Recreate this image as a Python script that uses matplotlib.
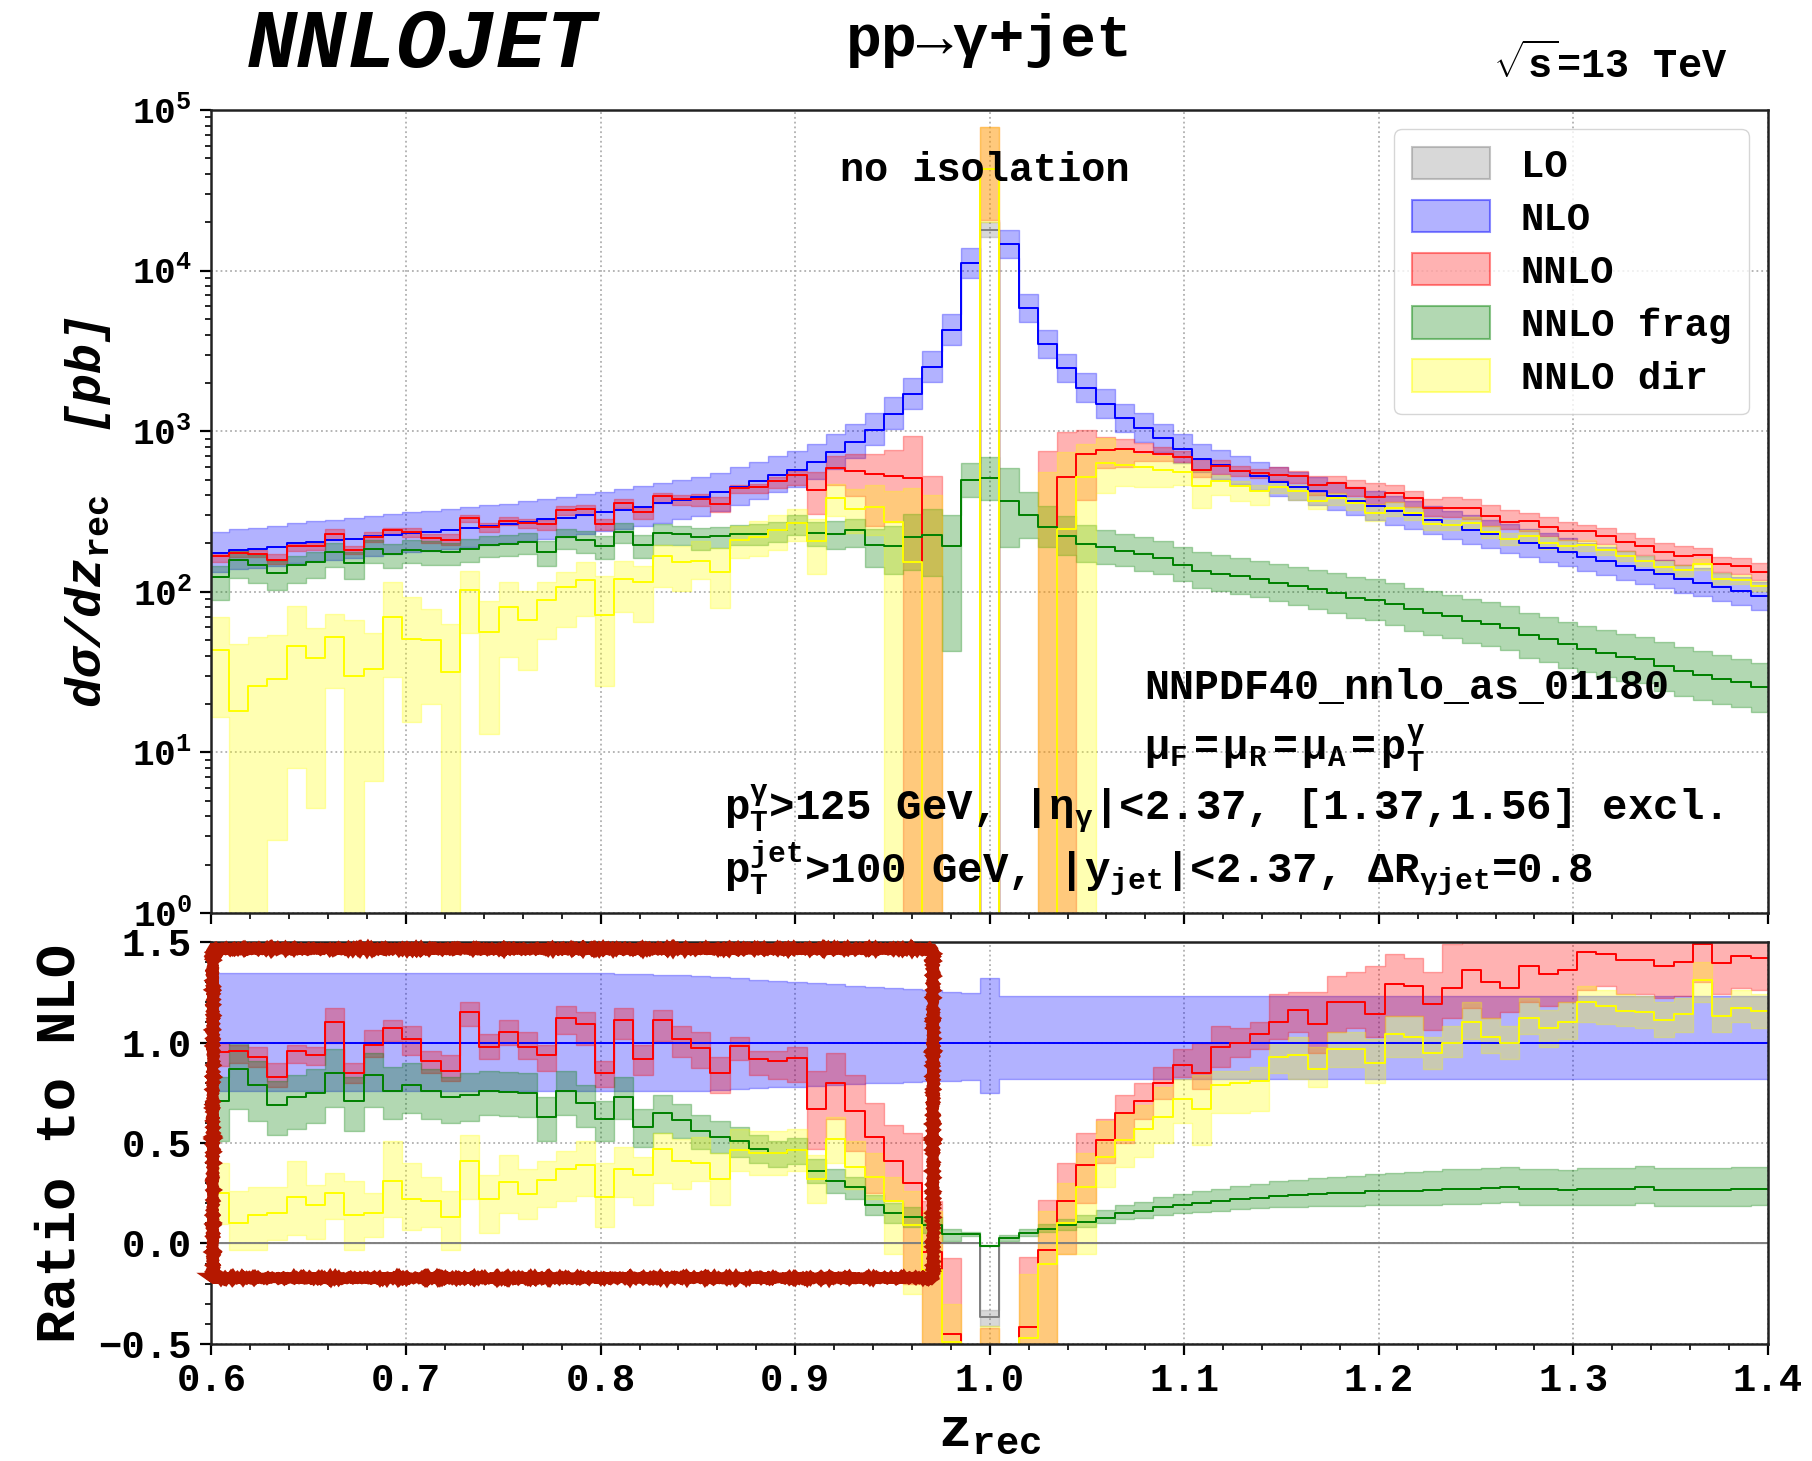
import numpy as np
import matplotlib
matplotlib.use('Agg')
import matplotlib.pyplot as plt
from matplotlib.patches import Patch, Rectangle
from matplotlib.ticker import MultipleLocator, LogLocator, NullFormatter

plt.rcParams['font.family'] = ['Liberation Mono', 'DejaVu Sans Mono', 'DejaVu Sans']
plt.rcParams['font.weight'] = 'bold'
plt.rcParams['axes.labelweight'] = 'bold'
plt.rcParams['mathtext.fontset'] = 'custom'
plt.rcParams['mathtext.rm'] = 'Liberation Mono:bold'
plt.rcParams['mathtext.it'] = 'Liberation Mono:bold:italic'
plt.rcParams['mathtext.bf'] = 'Liberation Mono:bold'
plt.rcParams['mathtext.default'] = 'regular'

# 81 bins of width 0.0099, centred on z_rec = 1
BIN_WIDTH = 0.0099
z_centres = 1.0 + BIN_WIDTH * np.arange(-40, 41)

# NLO cross section per bin [pb] (negative in the z = 1 bin)
nlo_xsec = [174, 182, 186, 191, 200, 204, 209, 214, 221, 226,
            232, 237, 243, 251, 257, 263, 272, 282, 288, 302,
            313, 324, 339, 355, 372, 389, 417, 452, 490, 537,
            575, 646, 741, 861, 1023, 1288, 1698, 2512, 4270, 11100,
            -49000,
            14650, 5820, 3470, 2460, 1860, 1480, 1200, 1050, 904, 776,
            676, 617, 569, 525, 484, 452, 422, 394, 367, 343,
            320, 299, 279, 260, 243, 229, 214, 200, 188, 176,
            164, 155, 145, 136, 129, 120, 114, 107, 101, 94]
# NLO scale band relative to NLO central
nlo_rel_lo = [0.76] * 26 + [0.765, 0.77, 0.775, 0.78, 0.78, 0.785, 0.79, 0.795,
                            0.80, 0.80, 0.805, 0.81, 0.81, 0.815] + [0.75] + [0.82] * 40
nlo_rel_hi = [1.345] * 21 + [1.34, 1.34, 1.335, 1.335, 1.33, 1.325, 1.32, 1.31,
                             1.305, 1.30, 1.295, 1.29, 1.28, 1.275, 1.27, 1.265,
                             1.26, 1.25, 1.245] + [1.32] + [1.23] * 40

# LO only populates the z = 1 bin
lo_xsec = [0.0] * 40 + [1.8e4] + [0.0] * 40
lo_xsec_lo = [0.0] * 40 + [1.62e4] + [0.0] * 40
lo_xsec_hi = [0.0] * 40 + [2.0e4] + [0.0] * 40

# ratios to NLO: NNLO
nnlo_r = [0.955, 0.96, 0.93, 0.83, 0.96, 0.94, 1.10, 0.85, 0.99, 1.07,
          1.02, 0.91, 0.86, 1.15, 0.98, 1.05, 0.98, 0.94, 1.12, 1.09,
          0.85, 1.11, 0.92, 1.11, 1.02, 0.975, 0.85, 0.985, 0.92, 0.91,
          0.925, 0.67, 0.80, 0.66, 0.53, 0.41, 0.30, -0.04, -0.45, -1.2,
          -0.88,
          -1.6, -0.415, -0.03, 0.21, 0.39, 0.515, 0.65, 0.71, 0.80, 0.89,
          0.85, 0.98, 0.997, 1.04, 1.10, 1.16, 1.09, 1.20, 1.20, 1.14,
          1.29, 1.28, 1.19, 1.27, 1.36, 1.30, 1.27, 1.38, 1.34, 1.36,
          1.45, 1.44, 1.41, 1.41, 1.38, 1.40, 1.49, 1.395, 1.43, 1.42]
nnlo_r_lo = [0.885, 0.90, 0.88, 0.78, 0.90, 0.89, 1.0, 0.80, 0.93, 1.01,
             0.94, 0.85, 0.81, 1.08, 0.92, 0.99, 0.92, 0.86, 1.04, 0.99,
             0.78, 1.02, 0.84, 1.01, 0.93, 0.875, 0.75, 0.915, 0.84, 0.82,
             0.805, 0.47, 0.62, 0.46, 0.25, 0.21, -0.2, -1.04, -1.45, -1.8,
             -1.6,
             -2.2, -1.2, -0.8, -0.05, 0.20, 0.40, 0.50, 0.62, 0.72, 0.83,
             0.77, 0.88, 0.93, 0.97, 1.02, 1.05, 0.95, 1.05, 1.07, 1.03,
             1.13, 1.13, 1.06, 1.12, 1.17, 1.12, 1.15, 1.2, 1.18, 1.2,
             1.26, 1.28, 1.24, 1.24, 1.22, 1.23, 1.3, 1.24, 1.27, 1.26]
nnlo_r_hi = [1.0, 0.99, 0.98, 0.90, 0.99, 0.98, 1.17, 0.90, 1.06, 1.11,
             1.08, 0.96, 0.94, 1.20, 1.04, 1.11, 1.05, 0.99, 1.18, 1.15,
             0.91, 1.17, 0.99, 1.16, 1.08, 1.05, 0.93, 1.03, 0.96, 0.96,
             0.98, 0.86, 0.95, 0.84, 0.70, 0.59, 0.55, 0.21, -0.07, -0.8,
             -0.42,
             -1.0, -0.065, 0.216, 0.40, 0.55, 0.62, 0.74, 0.80, 0.88, 0.97,
             1.0, 1.08, 1.07, 1.10, 1.24, 1.25, 1.25, 1.33, 1.35, 1.38,
             1.44, 1.42, 1.35, 1.49, 1.55, 1.52, 1.50, 1.55, 1.55, 1.55,
             1.6, 1.6, 1.6, 1.6, 1.55, 1.6, 1.65, 1.55, 1.6, 1.6]

# ratios to NLO: NNLO fragmentation part
frag_r = [0.71, 0.87, 0.79, 0.69, 0.73, 0.75, 0.85, 0.71, 0.84, 0.76,
          0.79, 0.76, 0.73, 0.74, 0.76, 0.755, 0.75, 0.63, 0.76, 0.70,
          0.62, 0.73, 0.58, 0.65, 0.615, 0.56, 0.53, 0.51, 0.47, 0.45,
          0.465, 0.36, 0.31, 0.28, 0.19, 0.15, 0.13, 0.09, 0.045, 0.045,
          -0.0104,
          0.025, 0.052, 0.073, 0.091, 0.107, 0.128, 0.15, 0.163, 0.18, 0.19,
          0.20, 0.21, 0.22, 0.228, 0.236, 0.24, 0.246, 0.25, 0.25, 0.26,
          0.262, 0.262, 0.266, 0.272, 0.272, 0.276, 0.28, 0.27, 0.27, 0.268,
          0.27, 0.27, 0.272, 0.28, 0.268, 0.268, 0.266, 0.266, 0.27, 0.272]
frag_r_lo = [0.51, 0.67, 0.61, 0.54, 0.57, 0.60, 0.68, 0.56, 0.68, 0.62,
             0.65, 0.62, 0.60, 0.61, 0.64, 0.635, 0.63, 0.51, 0.64, 0.58,
             0.51, 0.62, 0.48, 0.55, 0.525, 0.47, 0.45, 0.43, 0.40, 0.38,
             0.395, 0.30, 0.25, 0.22, 0.14, 0.10, 0.08, 0.05, 0.01, 0.035,
             -0.0076,
             0.013, 0.037, 0.055, 0.069, 0.082, 0.10, 0.12, 0.129, 0.143, 0.15,
             0.157, 0.164, 0.171, 0.176, 0.181, 0.183, 0.186, 0.188, 0.186, 0.194,
             0.194, 0.192, 0.194, 0.199, 0.198, 0.201, 0.204, 0.193, 0.193, 0.19,
             0.192, 0.191, 0.193, 0.20, 0.188, 0.188, 0.186, 0.186, 0.189, 0.191]
frag_r_hi = [0.83, 1.0, 0.91, 0.81, 0.84, 0.87, 0.97, 0.83, 0.95, 0.88,
             0.90, 0.87, 0.83, 0.85, 0.86, 0.855, 0.85, 0.73, 0.86, 0.79,
             0.71, 0.83, 0.67, 0.74, 0.695, 0.64, 0.61, 0.58, 0.54, 0.51,
             0.525, 0.42, 0.37, 0.33, 0.24, 0.20, 0.18, 0.13, 0.07, 0.057,
             -0.0141,
             0.04, 0.072, 0.098, 0.121, 0.14, 0.165, 0.19, 0.208, 0.23, 0.245,
             0.26, 0.273, 0.286, 0.298, 0.309, 0.316, 0.326, 0.332, 0.335, 0.348,
             0.352, 0.354, 0.361, 0.369, 0.372, 0.376, 0.38, 0.37, 0.37, 0.368,
             0.375, 0.375, 0.377, 0.385, 0.378, 0.378, 0.376, 0.376, 0.38, 0.382]

# ratios to NLO: NNLO direct part
dir_r = [0.25, 0.10, 0.14, 0.15, 0.23, 0.19, 0.25, 0.14, 0.15, 0.31,
         0.22, 0.21, 0.13, 0.41, 0.22, 0.305, 0.245, 0.315, 0.37, 0.39,
         0.23, 0.37, 0.34, 0.47, 0.41, 0.40, 0.32, 0.465, 0.45, 0.45,
         0.465, 0.32, 0.52, 0.38, 0.33, 0.21, 0.09, -0.13, -0.49, -1.2,
         -0.87,
         -1.5, -0.47, -0.10, 0.10, 0.28, 0.43, 0.515, 0.57, 0.63, 0.72,
         0.67, 0.79, 0.80, 0.81, 0.93, 0.94, 0.87, 0.97, 0.97, 0.90,
         1.04, 1.03, 0.95, 1.0, 1.10, 1.03, 1.0, 1.12, 1.07, 1.10,
         1.20, 1.18, 1.155, 1.15, 1.11, 1.14, 1.31, 1.13, 1.17, 1.155]
dir_r_lo = [0.095, -0.03, -0.03, 0.015, 0.04, 0.022, 0.12, -0.03, 0.03, 0.13,
            0.067, 0.084, -0.03, 0.22, 0.051, 0.15, 0.12, 0.18, 0.21, 0.235,
            0.083, 0.23, 0.19, 0.30, 0.27, 0.31, 0.19, 0.36, 0.34, 0.34,
            0.36, 0.20, 0.40, 0.27, 0.22, -0.05, -0.25, -0.8, -1.2, -1.8,
            -1.6,
            -2.0, -1.0, -0.5, -0.05, -0.05, 0.28, 0.38, 0.43, 0.50, 0.60,
            0.49, 0.65, 0.65, 0.66, 0.85, 0.82, 0.78, 0.88, 0.88, 0.80,
            0.93, 0.93, 0.87, 0.93, 1.02, 0.95, 0.92, 1.04, 0.98, 1.02,
            1.10, 1.09, 1.08, 1.07, 1.03, 1.05, 1.20, 1.05, 1.10, 1.07]
dir_r_hi = [0.40, 0.26, 0.28, 0.28, 0.41, 0.29, 0.35, 0.31, 0.25, 0.51,
            0.40, 0.33, 0.26, 0.54, 0.34, 0.44, 0.37, 0.41, 0.46, 0.51,
            0.40, 0.48, 0.43, 0.55, 0.52, 0.53, 0.45, 0.57, 0.56, 0.56,
            0.57, 0.44, 0.63, 0.51, 0.45, 0.33, 0.26, 0.16, -0.30, -0.8,
            -0.41,
            -1.0, -0.15, 0.16, 0.30, 0.45, 0.61, 0.65, 0.69, 0.78, 0.82,
            0.84, 0.86, 0.86, 0.88, 1.0, 1.03, 0.98, 1.05, 1.05, 1.02,
            1.13, 1.13, 1.03, 1.08, 1.20, 1.12, 1.08, 1.22, 1.16, 1.20,
            1.28, 1.26, 1.24, 1.23, 1.20, 1.22, 1.40, 1.22, 1.26, 1.24]

COLORS = {'LO': 'grey', 'NLO': 'blue', 'NNLO': 'red',
          'NNLO frag': 'green', 'NNLO dir': 'yellow'}

edges = np.append(z_centres - BIN_WIDTH / 2, z_centres[-1] + BIN_WIDTH / 2)
xs = np.repeat(edges, 2)[1:-1]


def stepped(vals):
    return np.repeat(np.asarray(vals, dtype=float), 2)


def draw(ax, lo, hi, mid, color):
    ax.fill_between(xs, stepped(lo), stepped(hi), facecolor=color, alpha=0.3,
                    edgecolor=color, lw=1.0)
    ax.plot(xs, stepped(mid), color=color, lw=1.4)


nlo = np.array(nlo_xsec, dtype=float)
series = {
    'NNLO': (nnlo_r, nnlo_r_lo, nnlo_r_hi),
    'NNLO frag': (frag_r, frag_r_lo, frag_r_hi),
    'NNLO dir': (dir_r, dir_r_lo, dir_r_hi),
}

fig = plt.figure(figsize=(18.12, 14.61), dpi=100)
ax = fig.add_axes([0.1167, 0.3751, 0.8590, 0.5496])
axr = fig.add_axes([0.1167, 0.0801, 0.8590, 0.2751], sharex=ax)

# --- main panel
ax.set_yscale('log')
draw(ax, lo_xsec_lo, lo_xsec_hi, lo_xsec, COLORS['LO'])
draw(ax, nlo * np.array(nlo_rel_lo), nlo * np.array(nlo_rel_hi), nlo, COLORS['NLO'])
for name, (mid, lo, hi) in series.items():
    draw(ax, nlo * np.array(lo), nlo * np.array(hi), nlo * np.array(mid), COLORS[name])

# --- ratio panel
lo_arr = np.array(lo_xsec)
draw(axr, np.array(lo_xsec_lo) / nlo, np.array(lo_xsec_hi) / nlo, lo_arr / nlo, COLORS['LO'])
draw(axr, nlo_rel_lo, nlo_rel_hi, nlo / nlo, COLORS['NLO'])
for name, (mid, lo, hi) in series.items():
    draw(axr, lo, hi, mid, COLORS[name])

ax.set_xlim(0.6, 1.4)
ax.set_ylim(1, 1e5)
axr.set_ylim(-0.5, 1.5)

for a in (ax, axr):
    a.grid(True, which='major', ls=':', color='#b0b0b0', lw=1.3)
    a.set_axisbelow(True)
    a.tick_params(which='major', length=8, width=1.6, labelsize=28, pad=6)
    a.tick_params(which='minor', length=4, width=1.2)
    a.xaxis.set_major_locator(MultipleLocator(0.1))
    a.xaxis.set_minor_locator(MultipleLocator(0.02))
    for s in a.spines.values():
        s.set_linewidth(1.8)
        s.set_color('#222222')

ax.tick_params(axis='y', which='major', labelsize=26)
ax.yaxis.set_major_locator(LogLocator(base=10, numticks=10))
ax.yaxis.set_minor_locator(LogLocator(base=10, subs=np.arange(2, 10), numticks=20))
ax.yaxis.set_minor_formatter(NullFormatter())
plt.setp(ax.get_xticklabels(), visible=False)
axr.yaxis.set_major_locator(MultipleLocator(0.5))
axr.yaxis.set_minor_locator(MultipleLocator(0.1))
axr.xaxis.set_major_formatter(plt.FuncFormatter(lambda v, p: f'{v:.1f}'))

ax.set_ylabel(r'$d\sigma/dz_{\rm rec}$  [pb]', fontsize=36, fontstyle='italic',
              fontweight='bold')
ax.yaxis.set_label_coords(-0.063, 0.5)
axr.set_ylabel('Ratio to NLO', fontsize=40, fontweight='bold')
axr.yaxis.set_label_coords(-0.080, 0.5)
axr.set_xlabel(r'$z_{\rm rec}$', fontsize=40, fontweight='bold')
axr.xaxis.set_label_coords(0.5, -0.155)

handles = [Patch(facecolor=matplotlib.colors.to_rgba(COLORS[k], 0.3),
                 edgecolor=matplotlib.colors.to_rgba(COLORS[k], 0.45), lw=1.5)
           for k in COLORS]
ax.legend(handles, list(COLORS), loc='upper right', fontsize=28,
          handlelength=2.0, handleheight=0.9, labelspacing=0.4,
          handletextpad=0.8, borderpad=0.45, fancybox=True)

# --- annotations
fig.text(0.233, 0.969, 'NNLOJET', fontsize=60, fontstyle='italic',
         fontweight='bold', ha='center', va='center')
fig.text(0.546, 0.972, 'pp→γ+jet', fontsize=43, ha='center', va='center')
fig.text(0.8885, 0.956, r'$\sqrt{s}$=13 TeV', fontsize=29, ha='center', va='center')
ax.text(0.497, 0.925, 'no isolation', transform=ax.transAxes, fontsize=29,
        ha='center', va='center')
ax.text(0.599, 0.280, 'NNPDF40_nnlo_as_01180', transform=ax.transAxes,
        fontsize=30, ha='left', va='center')
ax.text(0.599, 0.205, r'$\mu_F=\mu_R=\mu_A=p_T^{\gamma}$', transform=ax.transAxes,
        fontsize=30, ha='left', va='center')
ax.text(0.329, 0.1295, r'$p_T^{\gamma}$>125 GeV, |$\eta_{\gamma}$|<2.37, [1.37,1.56] excl.',
        transform=ax.transAxes, fontsize=30.5, ha='left', va='center')
ax.text(0.329, 0.055, r'$p_T^{jet}$>100 GeV, |$y_{jet}$|<2.37, $\Delta R_{\gamma jet}$=0.8',
        transform=ax.transAxes, fontsize=30.5, ha='left', va='center')

box = Rectangle((0.601, -0.17), 0.370, 1.636, fill=False, edgecolor='#b51800',
                lw=7.5, transform=axr.transData, clip_on=False, zorder=10)
box.set_sketch_params(scale=0.8, length=3, randomness=2)
axr.add_patch(box)

fig.savefig('out.png', dpi=100)
